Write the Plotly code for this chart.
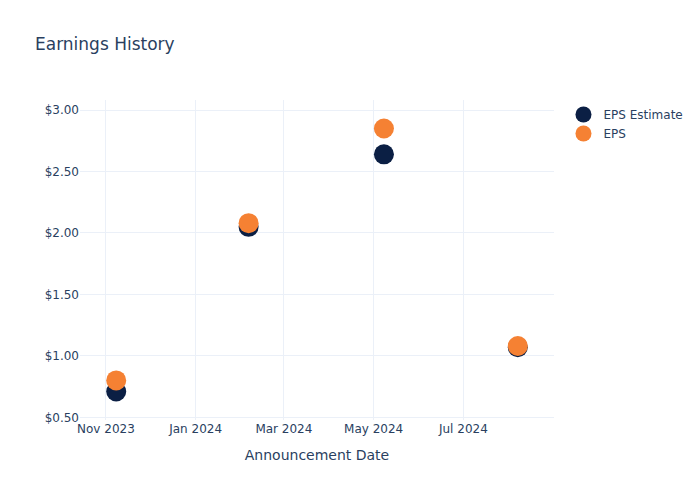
import plotly.graph_objects as go

dates = ["2023-11-08", "2024-02-06", "2024-05-08", "2024-08-07"]
eps_estimate = [0.71, 2.05, 2.64, 1.07]
eps_actual = [0.80, 2.08, 2.85, 1.08]

fig = go.Figure()
fig.add_trace(go.Scatter(x=dates, y=eps_estimate, mode="markers", name="EPS Estimate",
                         marker=dict(color="#0b1f44", size=20)))
fig.add_trace(go.Scatter(x=dates, y=eps_actual, mode="markers", name="EPS",
                         marker=dict(color="#f58133", size=20)))
fig.update_layout(
    template="plotly_white",
    width=700, height=500,
    font=dict(family="DejaVu Sans"),
    title=dict(text="Earnings History"),
    xaxis=dict(title=dict(text="Announcement Date")),
    yaxis=dict(tickformat="$.2f"),
)
fig.write_html("out.html")
